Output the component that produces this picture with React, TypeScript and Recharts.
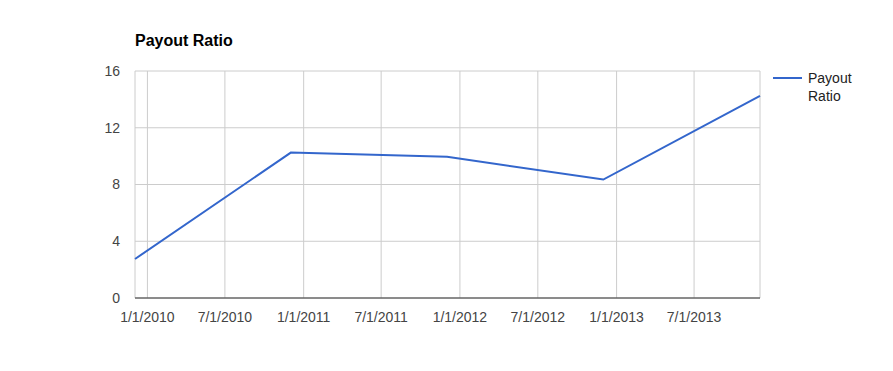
import React from "react";
import {
  LineChart,
  Line,
  XAxis,
  YAxis,
  CartesianGrid,
} from "recharts";

// payout ratio, one reading per year (early December)
const dates = ["2009-12-03", "2010-12-02", "2011-12-02", "2012-12-01", "2013-12-02"];
const payoutRatio = [2.75, 10.25, 9.95, 8.35, 14.25];

const xTickDates = [
  "2010-01-01",
  "2010-07-01",
  "2011-01-01",
  "2011-07-01",
  "2012-01-01",
  "2012-07-01",
  "2013-01-01",
  "2013-07-01",
];
const yTicks = [0, 4, 8, 12, 16];

const seriesName = "Payout Ratio";

const toTime = (s: string) => Date.parse(s + "T00:00:00Z");

const formatDate = (t: number) => {
  const d = new Date(t);
  return `${d.getUTCMonth() + 1}/${d.getUTCDate()}/${d.getUTCFullYear()}`;
};

const data = dates.map((d, i) => ({ date: toTime(d), value: payoutRatio[i] }));
const xTicks = xTickDates.map(toTime);

const font = "Arial, 'Liberation Sans', sans-serif";

const App = () => {
  return (
    <div style={{ position: "absolute", left: 0, top: 0, width: 893, height: 371, fontFamily: font }}>
      <div
        style={{
          position: "absolute",
          left: 135,
          top: 32,
          fontSize: 16,
          fontWeight: "bold",
          color: "#000",
        }}
      >
        Payout Ratio
      </div>

      <LineChart
        width={893}
        height={371}
        data={data}
        margin={{ top: 71, right: 133, bottom: 43, left: 95 }}
      >
        <CartesianGrid stroke="#cccccc" />
        <XAxis
          dataKey="date"
          type="number"
          scale="time"
          domain={["dataMin", "dataMax"]}
          ticks={xTicks}
          tickFormatter={formatDate}
          tickLine={false}
          axisLine={{ stroke: "#333333" }}
          height={30}
          tickMargin={8}
          tick={{ fill: "#444444", fontSize: 14, fontFamily: font }}
          interval={0}
        />
        <YAxis
          type="number"
          domain={[0, 16]}
          ticks={yTicks}
          tickLine={false}
          axisLine={false}
          width={40}
          tickMargin={9}
          tick={{ fill: "#444444", fontSize: 14, fontFamily: font }}
        />
        <Line
          type="linear"
          dataKey="value"
          name={seriesName}
          stroke="#3366cc"
          strokeWidth={2}
          dot={false}
          isAnimationActive={false}
        />
      </LineChart>

      <div style={{ position: "absolute", left: 773, top: 69, display: "flex", alignItems: "flex-start" }}>
        <svg width={30} height={18}>
          <line x1={0} y1={9} x2={29} y2={9} stroke="#3366cc" strokeWidth={2} />
        </svg>
        <div style={{ marginLeft: 5, width: 60, fontSize: 14, lineHeight: "18px", color: "#222222" }}>
          {seriesName}
        </div>
      </div>
    </div>
  );
};

export default App;
